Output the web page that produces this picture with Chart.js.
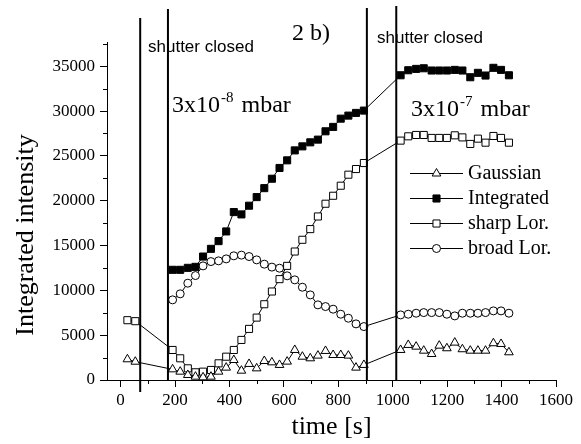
<!DOCTYPE html>
<html>
<head>
<meta charset="utf-8">
<script src="https://cdn.jsdelivr.net/npm/chart.js@4.4.0/dist/chart.umd.min.js"></script>
<style>
  body { margin: 0; background: #fff; }
  #wrap { width: 581px; height: 444px; }
</style>
</head>
<body>
<div id="wrap"><canvas id="chart"></canvas></div>
<script>
// time stamps [s] of the spectra
const timeEarly = [25, 54];
const timeLow = [191, 219, 247, 275, 303, 332, 360, 388, 416, 444, 472, 500, 528, 556,
                 584, 612, 640, 668, 697, 725, 753, 781, 809, 837, 865, 894];
const timeHigh = [1029, 1057, 1086, 1114, 1143, 1171, 1199, 1228, 1256, 1285, 1313, 1341, 1370, 1398, 1427];

const gaussianEarly = [2310, 2040];
const gaussianLow = [1190, 930, 560, 370, 300, 370, 930, 1380, 2230, 1040, 1790, 1300, 2120, 1970,
                     1680, 2050, 3350, 2600, 2420, 2720, 3240, 2790, 2790, 2720, 1380, 1680];
const gaussianHigh = [3350, 3910, 3720, 3270, 2900, 3830, 3540, 4170, 3430, 3270, 3270, 3270, 4100, 4020, 3090];

const integratedLow = [12290, 12290, 12510, 12620, 13770, 14630, 15490, 16570, 18730, 18470, 19440, 20400, 21400, 22450,
                       23650, 24500, 25610, 26060, 26510, 26810, 27740, 28230, 29150, 29490, 29790, 30050];
const integratedHigh = [33990, 34550, 34700, 34770, 34520, 34520, 34520, 34590, 34520, 33770, 34260, 33960, 34820, 34590, 33990];

const sharpEarly = [6670, 6560];
const sharpLow = [3350, 2420, 1300, 860, 930, 1120, 1860, 2600, 3350, 4470, 5700, 6960, 8450, 9870,
                  11250, 12730, 14330, 15640, 16830, 18240, 19660, 20550, 21670, 22900, 23530, 24200];
const sharpHigh = [26700, 27180, 27330, 27330, 27000, 27000, 27000, 27290, 27060, 26330, 26920, 26470, 27220, 27000, 26470];

const broadLow = [8940, 9610, 10800, 11650, 12730, 13210, 13290, 13510, 13850, 13930, 13770, 13400, 12920, 12590,
                  12470, 11620, 11170, 10350, 9490, 8380, 8190, 7900, 7340, 6890, 6260, 5960];
const broadHigh = [7260, 7340, 7450, 7520, 7520, 7520, 7340, 7150, 7450, 7450, 7450, 7520, 7710, 7710, 7450];

const shutterTimes = [72, 174, 905, 1013];
const xTicks = [0, 200, 400, 600, 800, 1000, 1200, 1400, 1600];
const yTicks = [0, 5000, 10000, 15000, 20000, 25000, 30000, 35000];

const SERIF = '"Liberation Serif", "Times New Roman", serif';
const SANS = '"Liberation Sans", Arial, sans-serif';

Chart.defaults.font.family = SERIF;
Chart.defaults.font.size = 17;
Chart.defaults.color = '#000';

function pts(times, vals) {
    return times.map((t, i) => ({ x: t, y: vals[i] }));
}

function series(label, data, style, radius, fill) {
    return {
        label: label,
        data: data,
        borderColor: '#000',
        borderWidth: 1,
        pointStyle: style,
        pointRadius: radius,
        pointBorderWidth: 1,
        pointBackgroundColor: fill,
        pointBorderColor: '#000',
        tension: 0
    };
}

const datasets = [
    series('Gaussian', pts(timeEarly.concat(timeLow, timeHigh), gaussianEarly.concat(gaussianLow, gaussianHigh)), 'triangle', 5, '#fff'),
    series('Integrated', pts(timeLow.concat(timeHigh), integratedLow.concat(integratedHigh)), 'rect', 5, '#000'),
    series('sharp Lor.', pts(timeEarly.concat(timeLow, timeHigh), sharpEarly.concat(sharpLow, sharpHigh)), 'rect', 5, '#fff'),
    series('broad Lor.', pts(timeLow.concat(timeHigh), broadLow.concat(broadHigh)), 'circle', 4, '#fff')
];

// short minor ticks every 2500 / 100
const minorTicks = {
    id: 'minorTicks',
    afterDraw(chart) {
        const ctx = chart.ctx, x = chart.scales.x, y = chart.scales.y;
        ctx.save();
        ctx.strokeStyle = '#000';
        ctx.lineWidth = 1;
        ctx.beginPath();
        for (let v = 2500; v < y.max; v += 5000) {
            const py = Math.round(y.getPixelForValue(v)) + 0.5;
            ctx.moveTo(x.left - 4, py);
            ctx.lineTo(x.left, py);
        }
        for (let v = 100; v < x.max; v += 200) {
            const px = Math.round(x.getPixelForValue(v)) + 0.5;
            ctx.moveTo(px, y.bottom);
            ctx.lineTo(px, y.bottom + 4);
        }
        ctx.stroke();
        ctx.restore();
    }
};

function drawPower(ctx, x, y, exp) {
    ctx.font = '24px ' + SERIF;
    ctx.fillText('3x10', x, y);
    let w = ctx.measureText('3x10').width;
    ctx.font = '15px ' + SERIF;
    ctx.fillText(exp, x + w + 1, y - 10);
    w += ctx.measureText(exp).width + 1;
    ctx.font = '24px ' + SERIF;
    ctx.fillText('mbar', x + w + 8, y);
}

const annotations = {
    id: 'annotations',
    afterDraw(chart) {
        const ctx = chart.ctx, x = chart.scales.x;
        ctx.save();
        // shutter lines
        const tops = [18, 9, 8, 6];
        const bottoms = [392, 381, 381, 381];
        ctx.strokeStyle = '#000';
        ctx.lineWidth = 2;
        shutterTimes.forEach((t, i) => {
            const px = x.getPixelForValue(t);
            ctx.beginPath();
            ctx.moveTo(px, tops[i]);
            ctx.lineTo(px, bottoms[i]);
            ctx.stroke();
        });

        ctx.fillStyle = '#000';
        ctx.textBaseline = 'alphabetic';
        ctx.textAlign = 'left';
        ctx.font = '17px ' + SANS;
        ctx.fillText('shutter closed', 148, 52);
        ctx.fillText('shutter closed', 377, 43);
        ctx.font = '24px ' + SERIF;
        ctx.fillText('2 b)', 292, 40);
        drawPower(ctx, 172, 112, '-8');
        drawPower(ctx, 411, 116, '-7');

        // y axis title
        ctx.save();
        ctx.translate(33, 235);
        ctx.rotate(-Math.PI / 2);
        ctx.textAlign = 'center';
        ctx.font = '26px ' + SERIF;
        ctx.fillText('Integrated intensity', 0, 0);
        ctx.restore();

        // legend
        const rows = [173, 198, 223, 248];
        chart.data.datasets.forEach((ds, i) => {
            const ry = rows[i];
            ctx.strokeStyle = '#000';
            ctx.lineWidth = 1;
            ctx.beginPath();
            ctx.moveTo(410, ry + 0.5);
            ctx.lineTo(463, ry + 0.5);
            ctx.stroke();
            ctx.fillStyle = ds.pointBackgroundColor;
            ctx.strokeStyle = '#000';
            Chart.helpers.drawPoint(ctx, { pointStyle: ds.pointStyle, radius: ds.pointRadius, borderWidth: 1, rotation: 0 }, 436.5, ry + 0.5);
            ctx.fillStyle = '#000';
            ctx.font = '20px ' + SERIF;
            ctx.textBaseline = 'middle';
            ctx.fillText(ds.label, 468, ry + 1);
            ctx.textBaseline = 'alphabetic';
        });
        ctx.restore();
    }
};

new Chart(document.getElementById('chart'), {
    type: 'line',
    data: { datasets: datasets },
    options: {
        responsive: true,
        maintainAspectRatio: false,
        animation: false,
        layout: { padding: { top: 42, right: 25, left: 0, bottom: 0 } },
        plugins: { legend: { display: false }, tooltip: { enabled: false } },
        scales: {
            x: {
                type: 'linear',
                min: -50,
                max: 1600,
                afterBuildTicks: (s) => { s.ticks = xTicks.map(v => ({ value: v })); },
                afterFit: (s) => { s.height = 64; },
                grid: { drawOnChartArea: false, drawTicks: true, tickLength: 7, tickColor: '#000', tickWidth: 1 },
                border: { display: true, color: '#000', width: 1 },
                ticks: { color: '#000', font: { family: SERIF, size: 17 }, padding: 3, maxRotation: 0, callback: (v) => String(v) },
                title: { display: true, text: 'time [s]', color: '#000', font: { family: SERIF, size: 26 }, padding: { top: 0, bottom: 1 } }
            },
            y: {
                min: 0,
                max: 37700,
                afterBuildTicks: (s) => { s.ticks = yTicks.map(v => ({ value: v })); },
                afterFit: (s) => { s.width = 107; },
                grid: { drawOnChartArea: false, drawTicks: true, tickLength: 7, tickColor: '#000', tickWidth: 1 },
                border: { display: true, color: '#000', width: 1 },
                ticks: { color: '#000', font: { family: SERIF, size: 17 }, padding: 5, callback: (v) => String(v) }
            }
        }
    },
    plugins: [minorTicks, annotations]
});
</script>
</body>
</html>
